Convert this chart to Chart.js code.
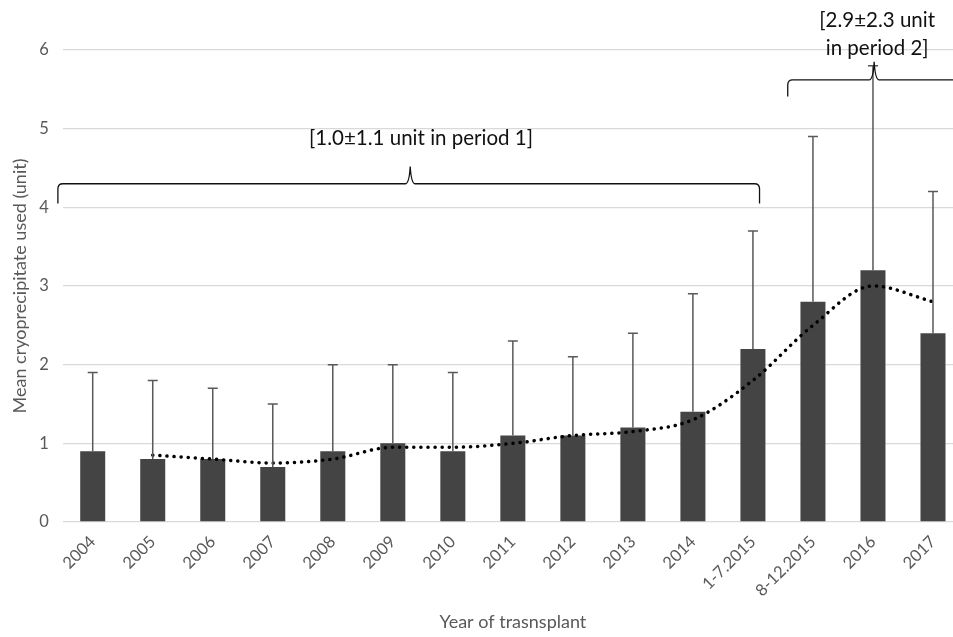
<!DOCTYPE html>
<html>
<head>
<meta charset="utf-8">
<script src="https://cdn.jsdelivr.net/npm/chart.js@4.4.1/dist/chart.umd.min.js"></script>
<style>
  html, body { margin: 0; padding: 0; background: #fff; overflow: hidden; }
  #wrap { width: 963px; height: 637px; position: relative; }
</style>
</head>
<body>
<div id="wrap"><canvas id="c" width="963" height="637"></canvas></div>
<script>
const categories = ["2004","2005","2006","2007","2008","2009","2010","2011","2012","2013","2014","1-7.2015","8-12.2015","2016","2017"];
const meanValues = [0.9, 0.8, 0.8, 0.7, 0.9, 1.0, 0.9, 1.1, 1.1, 1.2, 1.4, 2.2, 2.8, 3.2, 2.4];
const errorTops  = [1.9, 1.8, 1.7, 1.5, 2.0, 2.0, 1.9, 2.3, 2.1, 2.4, 2.9, 3.7, 4.9, 5.8, 4.2];
const trendValues = [null, 0.85, 0.8, 0.75, 0.8, 0.95, 0.95, 1.0, 1.1, 1.15, 1.3, 1.8, 2.5, 3.0, 2.8];
const yTicks = [0, 1, 2, 3, 4, 5, 6];
const bracketNotes = [
  { start: -0.58, end: 11.11, peak: 5.29, level: 4.3, hook: 4.05, peakUp: 4.52, text: ["[1.0±1.1 unit in period 1]"], textX: 5.47, textY: [4.88] },
  { start: 11.58, end: 14.6, peak: 13.02, level: 5.62, hook: 5.41, peakUp: 5.85, text: ["[2.9±2.3 unit", "in period 2]"], textX: 13.07, textY: [6.38, 6.02] }
];

const FONT = "Lato, 'Open Sans', sans-serif";

const errorBarPlugin = {
  id: 'errorBars',
  afterDatasetsDraw(chart) {
    const ctx = chart.ctx, xs = chart.scales.x, ys = chart.scales.y;
    ctx.save();
    ctx.strokeStyle = '#595959';
    ctx.lineWidth = 1.5;
    errorTops.forEach((top, i) => {
      const x = xs.getPixelForValue(i);
      const y0 = ys.getPixelForValue(meanValues[i]);
      const y1 = ys.getPixelForValue(top);
      ctx.beginPath();
      ctx.moveTo(x, y0); ctx.lineTo(x, y1);
      ctx.moveTo(x - 5, y1); ctx.lineTo(x + 5, y1);
      ctx.stroke();
    });
    ctx.restore();
  }
};

const bracketPlugin = {
  id: 'brackets',
  afterDraw(chart) {
    const ctx = chart.ctx, xs = chart.scales.x, ys = chart.scales.y;
    ctx.save();
    ctx.strokeStyle = '#111';
    ctx.lineWidth = 1.3;
    bracketNotes.forEach(b => {
      const x1 = xs.getPixelForValue(b.start), x2 = xs.getPixelForValue(b.end);
      const xm = xs.getPixelForValue(b.peak);
      const y = ys.getPixelForValue(b.level), yh = ys.getPixelForValue(b.hook), yp = ys.getPixelForValue(b.peakUp);
      const r = 5;
      ctx.beginPath();
      ctx.moveTo(x1, yh);
      ctx.lineTo(x1, y + r);
      ctx.quadraticCurveTo(x1, y, x1 + r, y);
      ctx.lineTo(xm - 5, y);
      ctx.quadraticCurveTo(xm - 1, y, xm, yp);
      ctx.quadraticCurveTo(xm + 1, y, xm + 5, y);
      ctx.lineTo(x2 - r, y);
      ctx.quadraticCurveTo(x2, y, x2, y + r);
      ctx.lineTo(x2, yh);
      ctx.stroke();
      ctx.fillStyle = '#111';
      ctx.font = "20.5px " + FONT;
      ctx.textAlign = 'center';
      ctx.textBaseline = 'middle';
      const tx = xs.getPixelForValue(b.textX);
      b.text.forEach((t, k) => ctx.fillText(t, tx, ys.getPixelForValue(b.textY[k])));
    });
    ctx.restore();
  }
};

new Chart(document.getElementById('c'), {
  data: {
    labels: categories,
    datasets: [
      {
        type: 'line',
        data: trendValues,
        borderColor: '#000',
        borderWidth: 3.5,
        borderDash: [0.1, 7],
        borderCapStyle: 'round',
        pointRadius: 0,
        tension: 0.3,
        cubicInterpolationMode: 'monotone',
        spanGaps: false,
        order: 0
      },
      {
        type: 'bar',
        data: meanValues,
        backgroundColor: '#444444',
        borderWidth: 0,
        barPercentage: 25/60,
        categoryPercentage: 1,
        order: 1
      }
    ]
  },
  options: {
    responsive: false,
    animation: false,
    layout: { padding: { top: 50, left: 0, right: 0, bottom: 0 } },
    plugins: { legend: { display: false }, tooltip: { enabled: false } },
    scales: {
      x: {
        grid: { display: false },
        border: { display: false },
        ticks: { color: '#595959', font: { family: FONT, size: 16.5 }, minRotation: 45, maxRotation: 45, padding: 2 },
        title: { display: true, text: 'Year of trasnsplant', color: '#595959', font: { family: FONT, size: 18 }, padding: { top: 0, bottom: 4 } },
        afterFit(s) { s.height = 115; }
      },
      y: {
        min: 0, max: 6,
        afterBuildTicks(s) { s.ticks = yTicks.map(v => ({ value: v })); },
        grid: { color: '#d9d9d9', lineWidth: 1.3, drawTicks: false },
        border: { display: false },
        ticks: { color: '#595959', font: { family: FONT, size: 16.5 }, padding: 14 },
        title: { display: true, text: 'Mean cryoprecipitate used (unit)', color: '#595959', font: { family: FONT, size: 18 }, padding: { top: 9, bottom: 0 } },
        afterFit(s) { s.width = 62.7; }
      }
    }
  },
  plugins: [errorBarPlugin, bracketPlugin]
});
</script>
</body>
</html>
